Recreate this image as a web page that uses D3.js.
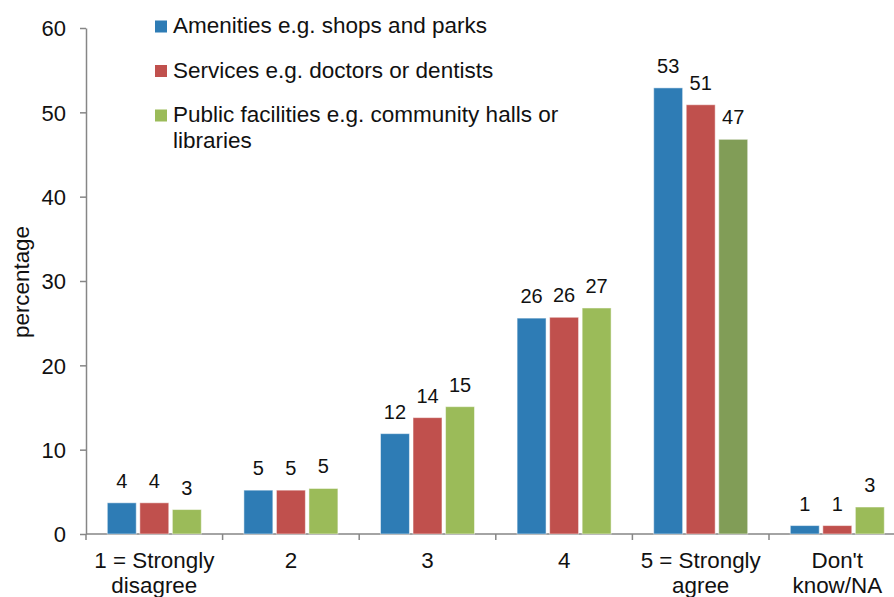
<!DOCTYPE html>
<html>
<head>
<meta charset="utf-8">
<script src="https://cdn.jsdelivr.net/npm/d3@7"></script>
<style>
  html, body { margin: 0; padding: 0; background: #fff; }
  svg { display: block; font-family: "Liberation Sans", Arial, sans-serif; }
  .axis path, .axis line { stroke: #868686; stroke-width: 1.5; }
  .axis text { fill: #111; }
</style>
</head>
<body>
<svg id="chart" width="894" height="597"></svg>
<script>
// Survey responses by category (percent)
const categories = [["1 = Strongly", "disagree"], ["2"], ["3"], ["4"], ["5 = Strongly", "agree"], ["Don't", "know/NA"]];
const seriesNames = [
  ["Amenities e.g. shops and parks"],
  ["Services e.g. doctors or dentists"],
  ["Public facilities e.g. community halls or", "libraries"]
];
const amenities = [3.7, 5.2, 11.9, 25.6, 52.9, 1.0];
const services  = [3.7, 5.2, 13.8, 25.7, 50.9, 1.0];
const publicFacilities = [2.9, 5.4, 15.1, 26.8, 46.8, 3.2];
const yTicks = [0, 10, 20, 30, 40, 50, 60];
const colors = ["#2e7cb5", "#c0504d", "#9bbb59"];
const highlightColor = "#819d57"; // public facilities, "5 = Strongly agree"

const seriesValues = [amenities, services, publicFacilities];

const svg = d3.select("#chart");
const plotLeft = 86, plotTop = 28, plotBottom = 534, step = 136.6;
const plotRight = plotLeft + step * categories.length;

const x = d3.scaleBand().domain(d3.range(categories.length)).range([plotLeft, plotRight]).padding(0);
const xs = d3.scaleBand().domain(d3.range(seriesValues.length)).range([21.3, 115.3]).paddingInner(0.11).paddingOuter(0);
const y = d3.scaleLinear().domain([0, 60]).range([plotBottom, plotTop]);

// Y axis
const yAxis = svg.append("g").attr("class", "axis")
  .attr("transform", `translate(${plotLeft},0)`)
  .call(d3.axisLeft(y).tickValues(yTicks).tickSize(6).tickPadding(14).tickSizeOuter(0));
yAxis.selectAll("text").style("font-size", "22px").attr("dy", "0.36em");

// X axis with ticks at category boundaries
svg.append("line")
  .attr("x1", plotLeft).attr("x2", plotRight).attr("y1", plotBottom).attr("y2", plotBottom)
  .attr("stroke", "#868686").attr("stroke-width", 1.5);
svg.append("g").selectAll("line")
  .data(d3.range(categories.length + 1))
  .join("line")
  .attr("x1", i => plotLeft + i * x.step()).attr("x2", i => plotLeft + i * x.step())
  .attr("y1", plotBottom).attr("y2", plotBottom + 6)
  .attr("stroke", "#868686").attr("stroke-width", 1.5);

// Category labels
const catText = svg.append("g").selectAll("text")
  .data(categories)
  .join("text")
  .attr("text-anchor", "middle")
  .attr("fill", "#111")
  .style("font-size", "22.4px")
  .attr("transform", (d, i) => `translate(${x(i) + x.bandwidth() / 2},568)`);
catText.selectAll("tspan")
  .data(d => d)
  .join("tspan")
  .attr("x", 0)
  .attr("dy", (d, i) => i === 0 ? 0 : 24.5)
  .text(d => d);

// Bars
const flat = [];
seriesValues.forEach((vals, s) => vals.forEach((v, c) => flat.push({ s, c, v })));

svg.append("g").selectAll("rect")
  .data(flat)
  .join("rect")
  .attr("x", d => x(d.c) + xs(d.s))
  .attr("width", xs.bandwidth())
  .attr("y", d => y(d.v))
  .attr("height", d => y(0) - y(d.v))
  .attr("fill", d => (d.s === 2 && d.c === 4) ? highlightColor : colors[d.s])
  .attr("stroke", "#ffffff")
  .attr("stroke-opacity", 0.5)
  .attr("stroke-width", 1);

// Value labels
svg.append("g").selectAll("text")
  .data(flat)
  .join("text")
  .attr("x", d => x(d.c) + xs(d.s) + xs.bandwidth() / 2)
  .attr("y", d => y(d.v) - 15)
  .attr("text-anchor", "middle")
  .attr("fill", "#111")
  .style("font-size", "20px")
  .text(d => Math.round(d.v));

// Y axis title
svg.append("text")
  .attr("transform", "translate(29,282) rotate(-90)")
  .attr("text-anchor", "middle")
  .attr("fill", "#111")
  .style("font-size", "22.4px")
  .text("percentage");

// Legend
const legend = svg.append("g").selectAll("g")
  .data(seriesNames)
  .join("g")
  .attr("transform", (d, i) => `translate(155,${33 + i * 44.5})`);
legend.append("rect")
  .attr("x", 0).attr("y", -12.5).attr("width", 12).attr("height", 12)
  .attr("fill", (d, i) => colors[i]);
legend.append("text")
  .attr("fill", "#111")
  .style("font-size", "22.5px")
  .selectAll("tspan")
  .data(d => d)
  .join("tspan")
  .attr("x", 18)
  .attr("dy", (d, i) => i === 0 ? 0 : 26)
  .text(d => d);
</script>
</body>
</html>
